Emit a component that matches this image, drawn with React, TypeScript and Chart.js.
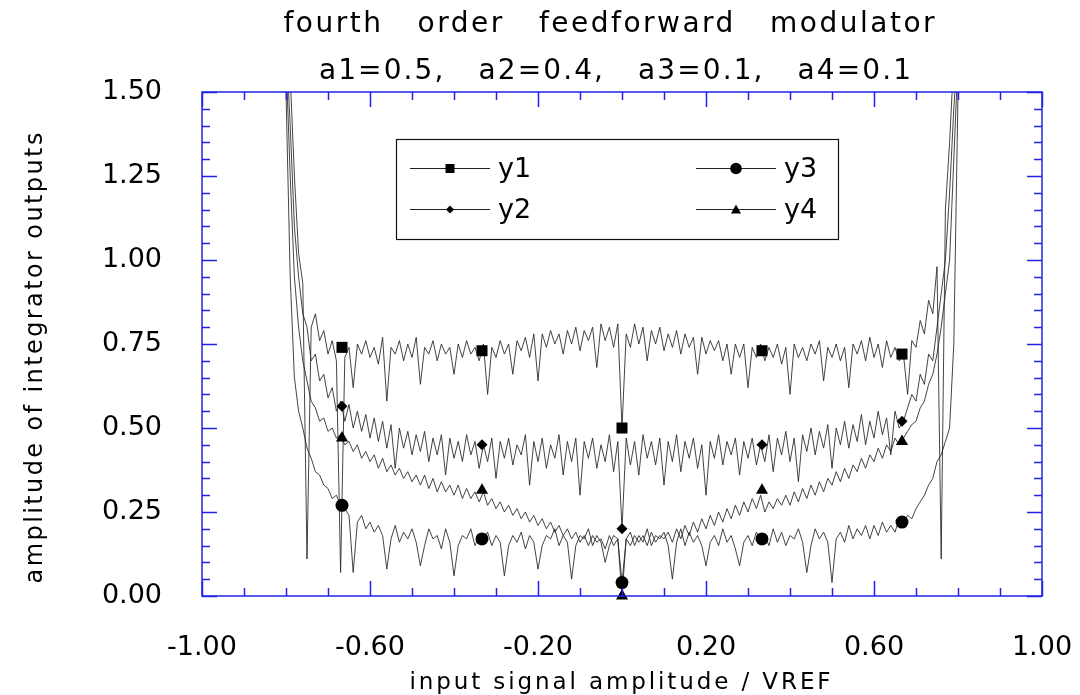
import React, { useEffect, useRef } from 'react';
import { Chart, registerables } from 'chart.js';

Chart.register(...registerables);

// ---------- data ----------
const TITLE_LINES = ['fourth   order   feedforward   modulator', 'a1=0.5,   a2=0.4,   a3=0.1,   a4=0.1'];
const X_TITLE = 'input signal amplitude / VREF';
const Y_TITLE = 'amplitude of integrator outputs';
const SERIES_NAMES = ['y1', 'y2', 'y3', 'y4'];

// sample grid of the simulated sweep
const X_START = -0.8;
const X_STEP = 0.01;

const Y1 = [
  1.70, 1.55, 1.25, 1.02, 0.93, 0.11, 0.80, 0.84, 0.76, 0.79,
  0.72, 0.76, 0.70, 0.07, 0.71, 0.74, 0.62, 0.75, 0.72, 0.76,
  0.71, 0.74, 0.69, 0.77, 0.58, 0.74, 0.72, 0.76, 0.70, 0.75,
  0.71, 0.77, 0.63, 0.74, 0.72, 0.76, 0.70, 0.75, 0.72, 0.74,
  0.66, 0.75, 0.71, 0.76, 0.72, 0.74, 0.70, 0.75, 0.60, 0.74,
  0.71, 0.76, 0.72, 0.75, 0.66, 0.76, 0.73, 0.77, 0.71, 0.78,
  0.64, 0.78, 0.74, 0.79, 0.75, 0.78, 0.72, 0.79, 0.75, 0.80,
  0.73, 0.79, 0.76, 0.80, 0.68, 0.81, 0.76, 0.80, 0.74, 0.81,
  0.50, 0.78, 0.74, 0.81, 0.75, 0.80, 0.70, 0.79, 0.75, 0.80,
  0.73, 0.78, 0.74, 0.79, 0.72, 0.78, 0.74, 0.77, 0.66, 0.77,
  0.72, 0.76, 0.73, 0.76, 0.70, 0.75, 0.66, 0.75, 0.71, 0.75,
  0.62, 0.74, 0.71, 0.75, 0.70, 0.74, 0.71, 0.75, 0.69, 0.74,
  0.60, 0.75, 0.71, 0.74, 0.70, 0.75, 0.72, 0.76, 0.64, 0.74,
  0.71, 0.75, 0.70, 0.74, 0.62, 0.75, 0.72, 0.76, 0.70, 0.77,
  0.71, 0.75, 0.68, 0.76, 0.71, 0.74, 0.70, 0.72, 0.60, 0.76,
  0.74, 0.82, 0.78, 0.88, 0.84, 0.98, 0.11, 1.15, 1.35, 1.60,
  1.70,
];

const Y2 = [
  1.65, 1.40, 1.10, 0.95, 0.84, 0.80, 0.70, 0.72, 0.64, 0.66,
  0.59, 0.62, 0.55, 0.58, 0.52, 0.57, 0.50, 0.55, 0.49, 0.54,
  0.47, 0.53, 0.46, 0.52, 0.44, 0.51, 0.38, 0.50, 0.44, 0.49,
  0.42, 0.48, 0.43, 0.49, 0.40, 0.47, 0.42, 0.48, 0.36, 0.47,
  0.41, 0.46, 0.40, 0.48, 0.42, 0.46, 0.38, 0.45, 0.40, 0.47,
  0.35, 0.46, 0.41, 0.47, 0.39, 0.45, 0.42, 0.48, 0.33, 0.46,
  0.40, 0.47, 0.38, 0.45, 0.41, 0.48, 0.36, 0.46, 0.40, 0.47,
  0.30, 0.46, 0.41, 0.47, 0.38, 0.45, 0.40, 0.48, 0.37, 0.46,
  0.20, 0.47, 0.39, 0.46, 0.36, 0.48, 0.41, 0.46, 0.39, 0.47,
  0.33, 0.46, 0.40, 0.48, 0.37, 0.46, 0.41, 0.47, 0.38, 0.45,
  0.30, 0.46, 0.41, 0.48, 0.39, 0.46, 0.42, 0.47, 0.36, 0.46,
  0.41, 0.47, 0.39, 0.45, 0.40, 0.48, 0.37, 0.47, 0.42, 0.49,
  0.40, 0.47, 0.34, 0.48, 0.43, 0.50, 0.42, 0.49, 0.44, 0.51,
  0.38, 0.50, 0.45, 0.52, 0.44, 0.51, 0.46, 0.54, 0.45, 0.52,
  0.47, 0.55, 0.48, 0.53, 0.42, 0.55, 0.50, 0.52, 0.56, 0.60,
  0.58, 0.66, 0.63, 0.72, 0.70, 0.80, 0.90, 1.00, 1.20, 1.45,
  1.65,
];

const Y3 = [
  1.50, 0.95, 0.65, 0.55, 0.50, 0.44, 0.41, 0.37, 0.36, 0.33,
  0.32, 0.29, 0.30, 0.27, 0.26, 0.24, 0.07, 0.22, 0.24, 0.20,
  0.22, 0.19, 0.21, 0.18, 0.08, 0.17, 0.21, 0.16, 0.19, 0.17,
  0.20, 0.16, 0.09, 0.15, 0.20, 0.17, 0.18, 0.14, 0.20, 0.16,
  0.06, 0.15, 0.18, 0.17, 0.20, 0.15, 0.18, 0.17, 0.19, 0.15,
  0.18, 0.16, 0.06, 0.15, 0.18, 0.16, 0.19, 0.14, 0.18, 0.16,
  0.08, 0.15, 0.18, 0.17, 0.20, 0.15, 0.18, 0.16, 0.05, 0.15,
  0.18, 0.17, 0.20, 0.15, 0.18, 0.16, 0.10, 0.15, 0.18, 0.17,
  0.04, 0.17, 0.19, 0.15, 0.18, 0.16, 0.20, 0.15, 0.18, 0.17,
  0.19, 0.15, 0.05, 0.16, 0.20, 0.15, 0.19, 0.16, 0.18, 0.15,
  0.09, 0.16, 0.18, 0.15, 0.20, 0.16, 0.18, 0.14, 0.09, 0.16,
  0.18, 0.15, 0.19, 0.17, 0.18, 0.15, 0.20, 0.16, 0.19, 0.15,
  0.18, 0.17, 0.20, 0.16, 0.07, 0.15, 0.20, 0.17, 0.19, 0.16,
  0.04, 0.17, 0.19, 0.16, 0.21, 0.17, 0.20, 0.18, 0.21, 0.17,
  0.21, 0.18, 0.22, 0.19, 0.21, 0.19, 0.23, 0.22, 0.24, 0.23,
  0.26, 0.28, 0.30, 0.33, 0.35, 0.40, 0.42, 0.46, 0.50, 0.75,
  1.50,
];

const Y4 = [
  1.60, 1.25, 0.95, 0.80, 0.70, 0.64, 0.58, 0.56, 0.52, 0.53,
  0.49, 0.50, 0.47, 0.48, 0.45, 0.46, 0.43, 0.45, 0.41, 0.43,
  0.40, 0.42, 0.38, 0.41, 0.37, 0.39, 0.36, 0.38, 0.35, 0.37,
  0.34, 0.36, 0.33, 0.36, 0.32, 0.35, 0.31, 0.34, 0.31, 0.33,
  0.30, 0.33, 0.29, 0.32, 0.29, 0.31, 0.28, 0.31, 0.27, 0.29,
  0.26, 0.28, 0.25, 0.27, 0.24, 0.26, 0.23, 0.25, 0.22, 0.24,
  0.21, 0.23, 0.20, 0.22, 0.19, 0.21, 0.18, 0.20, 0.17, 0.19,
  0.16, 0.18, 0.15, 0.18, 0.16, 0.17, 0.14, 0.18, 0.15, 0.17,
  0.00, 0.17, 0.15, 0.18, 0.16, 0.18, 0.15, 0.19, 0.16, 0.18,
  0.17, 0.19, 0.16, 0.20, 0.17, 0.21, 0.18, 0.22, 0.19, 0.23,
  0.20, 0.24, 0.21, 0.25, 0.22, 0.26, 0.23, 0.27, 0.24, 0.28,
  0.25, 0.29, 0.26, 0.30, 0.25, 0.28, 0.26, 0.29, 0.27, 0.30,
  0.27, 0.31, 0.28, 0.32, 0.29, 0.33, 0.30, 0.34, 0.31, 0.35,
  0.33, 0.37, 0.34, 0.38, 0.35, 0.39, 0.37, 0.41, 0.38, 0.42,
  0.40, 0.44, 0.41, 0.45, 0.43, 0.47, 0.45, 0.47, 0.49, 0.51,
  0.52, 0.56, 0.58, 0.63, 0.66, 0.72, 0.80, 0.90, 1.00, 1.30,
  1.60,
];

// plotted symbols
const MARK_X = [-2 / 3, -1 / 3, 0, 1 / 3, 2 / 3];
const MARK_Y1 = [0.74, 0.73, 0.5, 0.73, 0.72];
const MARK_Y2 = [0.565, 0.45, 0.2, 0.45, 0.52];
const MARK_Y3 = [0.27, 0.17, 0.04, 0.17, 0.22];
const MARK_Y4 = [0.47, 0.315, 0.0, 0.315, 0.46];

const X_TICK_VALUES = [-1.0, -0.6, -0.2, 0.2, 0.6, 1.0];
const Y_TICK_VALUES = [0, 0.25, 0.5, 0.75, 1.0, 1.25, 1.5];

// ---------- styles ----------
const FONT = "'DejaVu Sans', sans-serif";
const AXIS_COLOR = '#2323e6';
const LINE_COLOR = 'rgba(35,35,35,0.85)';
const MARK_STYLES = ['rect', 'rectRot', 'circle', 'triangle'];
const MARK_RADII = [7.8, 5.5, 6.5, 7];

function drawSymbol(ctx: CanvasRenderingContext2D, style: string, x: number, y: number, s: number) {
  ctx.beginPath();
  if (style === 'rect') {
    ctx.rect(x - s, y - s, 2 * s, 2 * s);
  } else if (style === 'rectRot') {
    ctx.moveTo(x, y - s);
    ctx.lineTo(x + s, y);
    ctx.lineTo(x, y + s);
    ctx.lineTo(x - s, y);
    ctx.closePath();
  } else if (style === 'circle') {
    ctx.arc(x, y, s, 0, Math.PI * 2);
  } else {
    ctx.moveTo(x, y - s);
    ctx.lineTo(x + s, y + s * 0.8);
    ctx.lineTo(x - s, y + s * 0.8);
    ctx.closePath();
  }
  ctx.fill();
}

function spacedText(ctx: any, text: string, x: number, y: number, spacing: number) {
  ctx.letterSpacing = `${spacing}px`;
  ctx.fillText(text, x + spacing / 2, y);
  ctx.letterSpacing = '0px';
}

const zeroPad = (s: any) => {
  s.paddingLeft = 0;
  s.paddingRight = 0;
  s.paddingTop = 0;
  s.paddingBottom = 0;
};

const decorPlugin = {
  id: 'decor',
  afterDatasetsDraw(chart: any) {
    const { ctx, chartArea: a, scales } = chart;
    const xs = scales.x;
    const ys = scales.y;
    ctx.save();
    ctx.strokeStyle = AXIS_COLOR;
    ctx.lineWidth = 1.5;
    ctx.strokeRect(a.left, a.top, a.right - a.left, a.bottom - a.top);
    ctx.beginPath();
    for (let k = -10; k <= 10; k++) {
      const v = k / 10;
      const px = Math.round(xs.getPixelForValue(v)) + 0.5;
      const major = X_TICK_VALUES.some((t) => Math.abs(t - v) < 1e-9);
      const len = major ? 15 : 8;
      ctx.moveTo(px, a.bottom);
      ctx.lineTo(px, a.bottom - len);
      ctx.moveTo(px, a.top);
      ctx.lineTo(px, a.top + len);
    }
    for (let k = 0; k <= 30; k++) {
      const v = k * 0.05;
      const py = Math.round(ys.getPixelForValue(v)) + 0.5;
      const major = Y_TICK_VALUES.some((t) => Math.abs(t - v) < 1e-9);
      const len = major ? 15 : 8;
      ctx.moveTo(a.left, py);
      ctx.lineTo(a.left + len, py);
      ctx.moveTo(a.right, py);
      ctx.lineTo(a.right - len, py);
    }
    ctx.stroke();
    ctx.restore();
  },
  afterDraw(chart: any) {
    const { ctx } = chart;
    ctx.save();
    ctx.fillStyle = '#000';
    // titles
    ctx.font = `28px ${FONT}`;
    ctx.textAlign = 'center';
    ctx.textBaseline = 'alphabetic';
    spacedText(ctx, TITLE_LINES[0], 609, 32, 2.5);
    spacedText(ctx, TITLE_LINES[1], 615, 79, 2.1);
    // x title
    ctx.font = `23px ${FONT}`;
    spacedText(ctx, X_TITLE, 620, 689, 2.9);
    // y title
    ctx.save();
    ctx.translate(42, 358);
    ctx.rotate(-Math.PI / 2);
    ctx.font = `24px ${FONT}`;
    spacedText(ctx, Y_TITLE, 0, 0, 2.4);
    ctx.restore();

    // legend
    ctx.fillStyle = '#fff';
    ctx.fillRect(396, 139, 443, 100);
    ctx.strokeStyle = '#111';
    ctx.lineWidth = 1.2;
    ctx.strokeRect(396.5, 139.5, 442, 100);
    const cols = [410, 696];
    const rows = [168, 209];
    const legendRadii = [4.5, 4, 5.8, 5];
    ctx.font = `27px ${FONT}`;
    ctx.textAlign = 'left';
    ctx.textBaseline = 'middle';
    [0, 1, 2, 3].forEach((i) => {
      const cx = cols[Math.floor(i / 2)];
      const cy = rows[i % 2];
      ctx.strokeStyle = '#222';
      ctx.lineWidth = 1.2;
      ctx.beginPath();
      ctx.moveTo(cx, cy + 0.5);
      ctx.lineTo(cx + 80, cy + 0.5);
      ctx.stroke();
      ctx.fillStyle = '#000';
      drawSymbol(ctx, MARK_STYLES[i], cx + 40, cy + 0.5, legendRadii[i]);
      ctx.fillText(SERIES_NAMES[i], cx + 88, cy + 2);
    });
    ctx.restore();
  },
};

export default function App() {
  const ref = useRef<HTMLCanvasElement | null>(null);

  useEffect(() => {
    document.body.style.margin = '0';
    const lines = [Y1, Y2, Y3, Y4];
    const marks = [MARK_Y1, MARK_Y2, MARK_Y3, MARK_Y4];
    const markSets = marks.map((m, i) => ({
      type: 'line' as const,
      label: SERIES_NAMES[i] + ' symbols',
      data: MARK_X.map((x, j) => ({ x, y: m[j] })),
      showLine: false,
      pointStyle: MARK_STYLES[i],
      pointRadius: MARK_RADII[i],
      pointBackgroundColor: '#000',
      pointBorderColor: '#000',
      pointBorderWidth: 0,
      clip: false as any,
    }));
    const lineSets = lines.map((arr, i) => ({
      type: 'line' as const,
      label: SERIES_NAMES[i],
      data: arr.map((y, j) => ({ x: X_START + j * X_STEP, y })),
      borderColor: LINE_COLOR,
      borderWidth: 1,
      pointRadius: 0,
      tension: 0,
      clip: 0 as any,
    }));
    const chart = new Chart(ref.current as HTMLCanvasElement, {
      type: 'line',
      data: { datasets: [...markSets, ...lineSets] as any },
      options: {
        responsive: false,
        animation: false,
        devicePixelRatio: 1,
        layout: { padding: { left: 0, top: 92, right: 38, bottom: 0 } },
        plugins: { legend: { display: false }, tooltip: { enabled: false }, title: { display: false } },
        scales: {
          x: {
            type: 'linear',
            min: -1,
            max: 1,
            grid: { display: false, drawTicks: false },
            border: { display: false },
            afterBuildTicks: (s: any) => {
              s.ticks = X_TICK_VALUES.map((v) => ({ value: v }));
            },
            afterFit: (s: any) => {
              s.height = 99;
              zeroPad(s);
            },
            ticks: {
              padding: 36,
              maxRotation: 0,
              autoSkip: false,
              color: '#000',
              font: { family: FONT, size: 27 },
              callback: (v: any) => Number(v).toFixed(2),
            },
          },
          y: {
            type: 'linear',
            min: 0,
            max: 1.5,
            grid: { display: false, drawTicks: false },
            border: { display: false },
            afterBuildTicks: (s: any) => {
              s.ticks = Y_TICK_VALUES.map((v) => ({ value: v }));
            },
            afterFit: (s: any) => {
              s.width = 202;
              zeroPad(s);
            },
            ticks: {
              padding: 40,
              autoSkip: false,
              color: '#000',
              font: { family: FONT, size: 27 },
              callback: (v: any) => Number(v).toFixed(2),
            },
          },
        },
      },
      plugins: [decorPlugin],
    });
    return () => chart.destroy();
  }, []);

  return (
    <div style={{ width: 1080, height: 695, background: '#fff' }}>
      <canvas ref={ref} width={1080} height={695} />
    </div>
  );
}
